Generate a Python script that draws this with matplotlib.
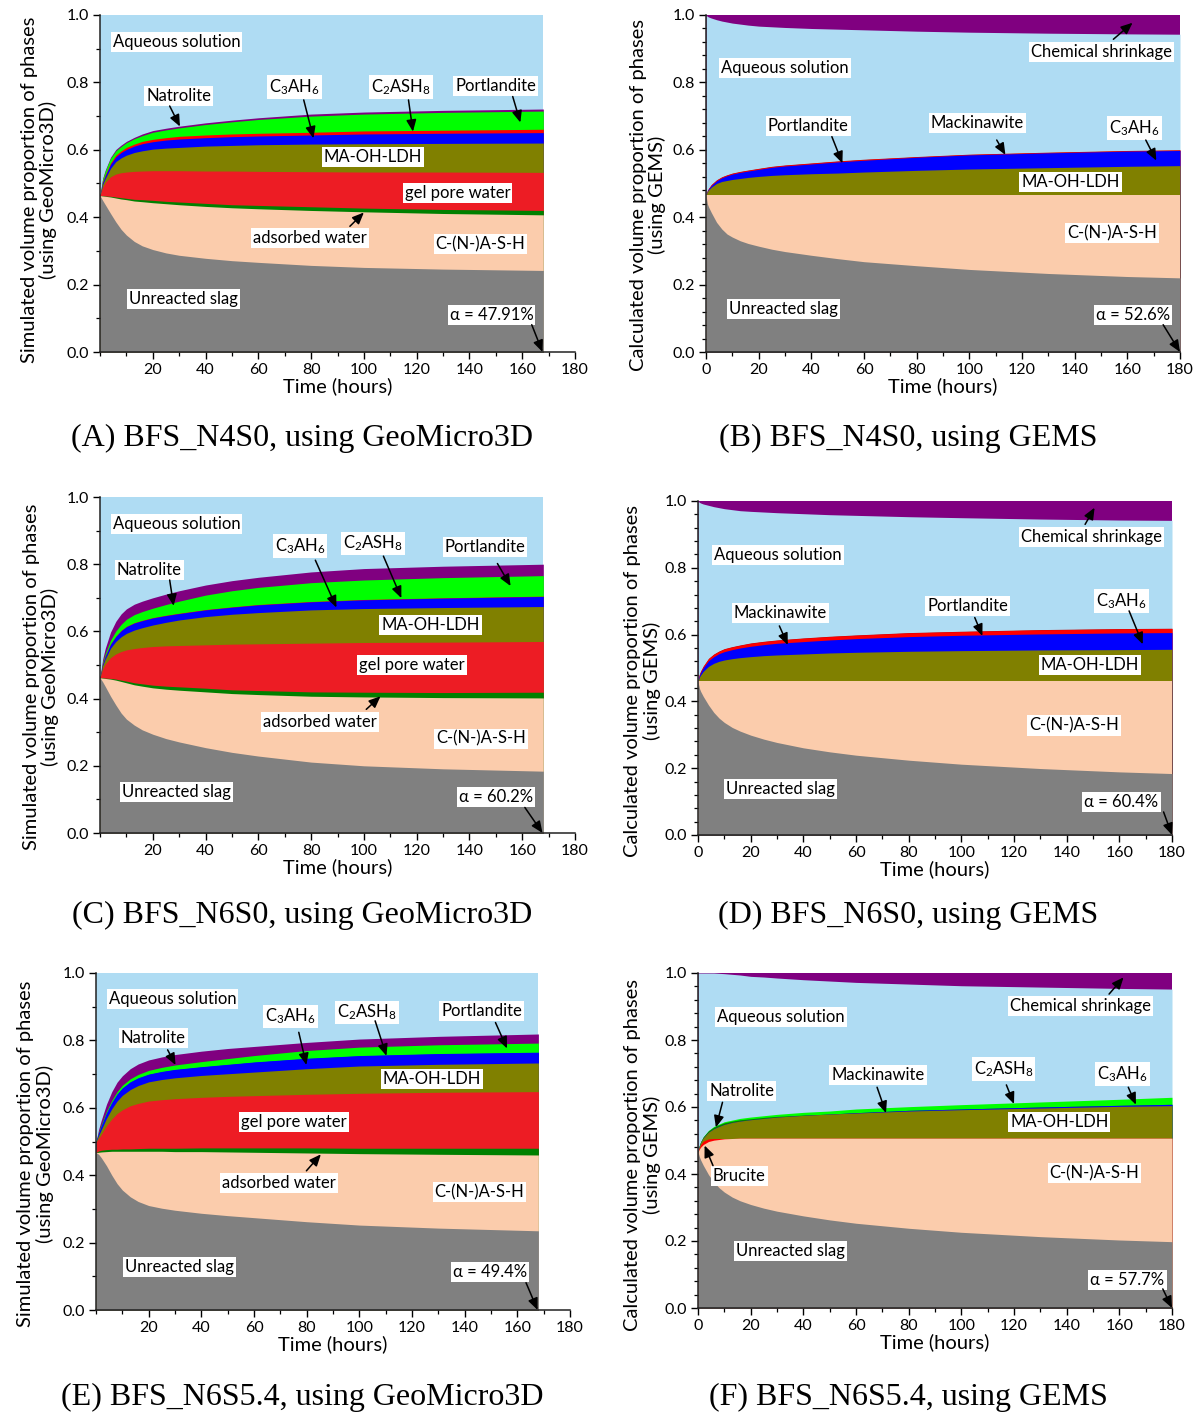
import numpy as np
import matplotlib
matplotlib.use("Agg")
import matplotlib.pyplot as plt
from matplotlib.ticker import MultipleLocator, AutoMinorLocator

plt.rcParams['font.family'] = ['Lato', 'DejaVu Sans']
plt.rcParams['mathtext.fontset'] = 'custom'
plt.rcParams['mathtext.rm'] = 'Lato'
plt.rcParams['mathtext.default'] = 'regular'

# ---- time axes (hours) ----
t_geo = [0, 1, 2, 4, 6, 8, 10, 13, 16, 20, 25, 30, 40, 50, 60, 80, 100, 130, 168]
t_gems = [0, 0.5, 1, 2, 4, 6, 8, 10, 13, 16, 20, 25, 30, 40, 50, 60, 80, 100, 130, 160, 180]

# ---- (A) BFS_N4S0, GeoMicro3D : volume fractions ----
a_slag = [0.464, 0.450, 0.437, 0.411, 0.386, 0.364, 0.347, 0.328, 0.315, 0.304, 0.294, 0.287, 0.278, 0.271, 0.266, 0.257, 0.251, 0.246, 0.242]
a_cash = [0, 0.013, 0.025, 0.049, 0.071, 0.090, 0.105, 0.120, 0.131, 0.139, 0.146, 0.150, 0.154, 0.157, 0.159, 0.163, 0.165, 0.165, 0.165]
a_ads = [0, 0.001, 0.001, 0.002, 0.003, 0.004, 0.004, 0.005, 0.006, 0.007, 0.007, 0.008, 0.009, 0.009, 0.010, 0.011, 0.011, 0.012, 0.013]
a_gel = [0, 0.024, 0.040, 0.058, 0.068, 0.074, 0.078, 0.083, 0.085, 0.088, 0.091, 0.093, 0.096, 0.100, 0.101, 0.104, 0.107, 0.111, 0.113]
a_ldh = [0, 0.009, 0.012, 0.025, 0.037, 0.044, 0.050, 0.056, 0.060, 0.064, 0.067, 0.069, 0.074, 0.076, 0.079, 0.082, 0.084, 0.085, 0.087]
a_c3ah6 = [0, 0.006, 0.008, 0.012, 0.014, 0.016, 0.017, 0.019, 0.021, 0.022, 0.024, 0.025, 0.025, 0.026, 0.026, 0.027, 0.029, 0.030, 0.031]
a_c2ash8 = [0, 0.002, 0.003, 0.004, 0.005, 0.005, 0.006, 0.006, 0.007, 0.007, 0.007, 0.008, 0.008, 0.008, 0.008, 0.008, 0.009, 0.009, 0.010]
a_port = [0, 0.008, 0.011, 0.014, 0.013, 0.013, 0.014, 0.016, 0.017, 0.021, 0.023, 0.025, 0.031, 0.036, 0.041, 0.048, 0.050, 0.053, 0.054]
a_natro = [0, 0.002, 0.003, 0.003, 0.004, 0.004, 0.004, 0.004, 0.005, 0.005, 0.005, 0.005, 0.005, 0.005, 0.005, 0.006, 0.006, 0.006, 0.006]

# ---- (B) BFS_N4S0, GEMS ----
b_slag = [0.466, 0.440, 0.430, 0.414, 0.385, 0.365, 0.350, 0.341, 0.330, 0.322, 0.314, 0.305, 0.298, 0.287, 0.277, 0.268, 0.256, 0.245, 0.233, 0.224, 0.220]
b_cash = [0, 0.026, 0.036, 0.052, 0.081, 0.101, 0.116, 0.125, 0.136, 0.144, 0.152, 0.161, 0.168, 0.179, 0.189, 0.198, 0.210, 0.221, 0.233, 0.242, 0.246]
b_ldh = [0, 0.010, 0.015, 0.023, 0.034, 0.040, 0.043, 0.046, 0.049, 0.052, 0.055, 0.058, 0.060, 0.063, 0.065, 0.068, 0.073, 0.077, 0.081, 0.085, 0.087]
b_c3ah6 = [0, 0.001, 0.003, 0.005, 0.008, 0.011, 0.014, 0.016, 0.018, 0.019, 0.021, 0.024, 0.026, 0.029, 0.033, 0.035, 0.039, 0.042, 0.044, 0.045, 0.045]
b_port = [0, 0.001, 0.001, 0.002, 0.002, 0.002, 0.002, 0.002, 0.002, 0.002, 0.002, 0.002, 0.002, 0.002, 0.002, 0.002, 0.001, 0.001, 0.001, 0.001, 0.001]
b_mack = [0, 0.001, 0.001, 0.001, 0.001, 0.001, 0.001, 0.001, 0.001, 0.001, 0.001, 0.001, 0.001, 0.001, 0.001, 0.001, 0.001, 0.001, 0.001, 0.001, 0.001]
b_shrink = [0, 0.004, 0.006, 0.009, 0.014, 0.018, 0.021, 0.024, 0.027, 0.030, 0.033, 0.035, 0.037, 0.040, 0.042, 0.044, 0.048, 0.051, 0.054, 0.056, 0.057]

# ---- (C) BFS_N6S0, GeoMicro3D ----
c_slag = [0.462, 0.450, 0.436, 0.407, 0.381, 0.357, 0.339, 0.321, 0.307, 0.294, 0.281, 0.271, 0.254, 0.240, 0.229, 0.211, 0.200, 0.191, 0.184]
c_cash = [0, 0.011, 0.024, 0.051, 0.074, 0.094, 0.108, 0.120, 0.130, 0.138, 0.147, 0.154, 0.166, 0.175, 0.183, 0.196, 0.205, 0.212, 0.218]
c_ads = [0, 0.001, 0.001, 0.002, 0.003, 0.004, 0.005, 0.006, 0.007, 0.008, 0.009, 0.010, 0.011, 0.011, 0.012, 0.013, 0.014, 0.015, 0.017]
c_gel = [0, 0.026, 0.042, 0.062, 0.075, 0.085, 0.093, 0.102, 0.108, 0.115, 0.120, 0.123, 0.129, 0.136, 0.139, 0.145, 0.148, 0.150, 0.151]
c_ldh = [0, 0.010, 0.015, 0.028, 0.037, 0.044, 0.049, 0.055, 0.059, 0.064, 0.070, 0.076, 0.084, 0.089, 0.093, 0.099, 0.101, 0.103, 0.104]
c_c3ah6 = [0, 0.005, 0.008, 0.012, 0.015, 0.018, 0.020, 0.021, 0.021, 0.021, 0.020, 0.019, 0.020, 0.021, 0.023, 0.024, 0.026, 0.028, 0.030]
c_c2ash8 = [0, 0.001, 0.001, 0.001, 0.001, 0.001, 0.001, 0.001, 0.001, 0.001, 0.001, 0.001, 0.001, 0.001, 0.001, 0.001, 0.001, 0.001, 0.001]
c_port = [0, 0.004, 0.007, 0.011, 0.015, 0.018, 0.021, 0.024, 0.026, 0.028, 0.032, 0.036, 0.043, 0.048, 0.051, 0.056, 0.058, 0.060, 0.061]
c_natro = [0, 0.009, 0.016, 0.024, 0.029, 0.031, 0.031, 0.031, 0.031, 0.031, 0.031, 0.031, 0.030, 0.030, 0.030, 0.032, 0.034, 0.034, 0.034]

# ---- (D) BFS_N6S0, GEMS ----
d_slag = [0.460, 0.440, 0.430, 0.415, 0.389, 0.367, 0.350, 0.337, 0.322, 0.311, 0.299, 0.287, 0.277, 0.261, 0.249, 0.239, 0.224, 0.212, 0.199, 0.189, 0.184]
d_cash = [0, 0.020, 0.030, 0.045, 0.071, 0.093, 0.110, 0.123, 0.138, 0.149, 0.161, 0.173, 0.183, 0.199, 0.211, 0.221, 0.236, 0.248, 0.261, 0.271, 0.276]
d_ldh = [0, 0.012, 0.019, 0.030, 0.045, 0.054, 0.060, 0.064, 0.068, 0.071, 0.074, 0.077, 0.079, 0.082, 0.085, 0.087, 0.090, 0.092, 0.094, 0.095, 0.096]
d_c3ah6 = [0, 0.006, 0.008, 0.011, 0.017, 0.020, 0.023, 0.025, 0.027, 0.029, 0.031, 0.033, 0.035, 0.037, 0.039, 0.041, 0.044, 0.046, 0.048, 0.050, 0.050]
d_port = [0, 0.002, 0.003, 0.004, 0.006, 0.007, 0.007, 0.008, 0.008, 0.008, 0.009, 0.009, 0.009, 0.010, 0.010, 0.010, 0.011, 0.011, 0.012, 0.012, 0.012]
d_mack = [0, 0.001, 0.001, 0.001, 0.001, 0.001, 0.001, 0.001, 0.001, 0.001, 0.001, 0.001, 0.001, 0.001, 0.001, 0.001, 0.001, 0.001, 0.001, 0.001, 0.001]
d_shrink = [0, 0.004, 0.006, 0.009, 0.013, 0.017, 0.020, 0.023, 0.026, 0.029, 0.031, 0.033, 0.035, 0.038, 0.041, 0.043, 0.047, 0.050, 0.054, 0.057, 0.058]

# ---- (E) BFS_N6S5.4, GeoMicro3D ----
e_slag = [0.467, 0.462, 0.452, 0.428, 0.400, 0.375, 0.356, 0.336, 0.322, 0.310, 0.302, 0.296, 0.287, 0.280, 0.274, 0.262, 0.252, 0.243, 0.235]
e_cash = [0, 0.006, 0.017, 0.042, 0.071, 0.096, 0.115, 0.135, 0.149, 0.161, 0.169, 0.174, 0.183, 0.189, 0.194, 0.204, 0.212, 0.219, 0.225]
e_ads = [0, 0.004, 0.005, 0.006, 0.006, 0.006, 0.007, 0.007, 0.008, 0.009, 0.009, 0.010, 0.011, 0.012, 0.013, 0.015, 0.016, 0.018, 0.020]
e_gel = [0.031, 0.037, 0.047, 0.071, 0.090, 0.106, 0.116, 0.128, 0.134, 0.140, 0.144, 0.147, 0.150, 0.153, 0.155, 0.159, 0.163, 0.166, 0.168]
e_ldh = [0.002, 0.009, 0.014, 0.022, 0.030, 0.037, 0.043, 0.048, 0.053, 0.057, 0.060, 0.062, 0.065, 0.067, 0.070, 0.076, 0.081, 0.083, 0.085]
e_c3ah6 = [0, 0.005, 0.010, 0.015, 0.018, 0.020, 0.021, 0.022, 0.022, 0.022, 0.023, 0.024, 0.025, 0.027, 0.029, 0.030, 0.030, 0.031, 0.031]
e_c2ash8 = [0, 0.001, 0.001, 0.001, 0.001, 0.001, 0.001, 0.001, 0.001, 0.001, 0.001, 0.001, 0.001, 0.001, 0.001, 0.001, 0.001, 0.001, 0.001]
e_port = [0, 0.002, 0.004, 0.005, 0.006, 0.007, 0.008, 0.009, 0.010, 0.011, 0.012, 0.013, 0.015, 0.017, 0.019, 0.023, 0.025, 0.026, 0.027]
e_natro = [0, 0.010, 0.013, 0.021, 0.026, 0.028, 0.028, 0.030, 0.031, 0.031, 0.031, 0.031, 0.031, 0.030, 0.027, 0.024, 0.024, 0.025, 0.027]

# ---- (F) BFS_N6S5.4, GEMS ----
f_slag = [0.466, 0.452, 0.442, 0.426, 0.398, 0.376, 0.359, 0.346, 0.331, 0.320, 0.309, 0.298, 0.289, 0.275, 0.263, 0.253, 0.238, 0.226, 0.213, 0.203, 0.198]
f_cash = [0, 0.022, 0.038, 0.062, 0.099, 0.125, 0.144, 0.159, 0.175, 0.187, 0.198, 0.209, 0.218, 0.232, 0.244, 0.254, 0.269, 0.281, 0.294, 0.304, 0.309]
f_brucite = [0, 0.005, 0.008, 0.010, 0.008, 0.005, 0.003, 0.001, 0, 0, 0, 0, 0, 0, 0, 0, 0, 0, 0, 0, 0]
f_ldh = [0, 0.005, 0.006, 0.010, 0.020, 0.029, 0.036, 0.042, 0.048, 0.051, 0.055, 0.059, 0.063, 0.068, 0.072, 0.075, 0.081, 0.085, 0.090, 0.095, 0.097]
f_c3ah6 = [0, 0, 0, 0, 0, 0, 0, 0, 0, 0, 0, 0, 0, 0, 0, 0.001, 0.002, 0.002, 0.003, 0.003, 0.004]
f_natro = [0, 0.001, 0.002, 0.003, 0.004, 0.005, 0.005, 0.005, 0.004, 0.004, 0.003, 0.003, 0.002, 0.001, 0, 0, 0, 0, 0, 0, 0]
f_c2ash8 = [0, 0, 0, 0, 0.001, 0.002, 0.002, 0.003, 0.003, 0.004, 0.005, 0.005, 0.006, 0.008, 0.009, 0.011, 0.011, 0.013, 0.015, 0.018, 0.021]
f_shrink = [0, 0, 0, 0, 0, 0, 0.001, 0.002, 0.004, 0.006, 0.010, 0.012, 0.015, 0.020, 0.024, 0.028, 0.033, 0.038, 0.042, 0.046, 0.048]

# ---- colours ----
GRAY = '#808080'
PEACH = '#FBCCAC'
DKGREEN = '#008000'
RED = '#ED1C24'
OLIVE = '#808000'
BLUE = '#0000FF'
BRED = '#FF0000'
LIME = '#00FF00'
PURPLE = '#800080'
AQUA = '#AFDCF3'
MACK = '#C00000'

C3 = 'C$_3$AH$_6$'
C2 = 'C$_2$ASH$_8$'

W, H = 1201, 1415
fig = plt.figure(figsize=(W / 100, H / 100), dpi=100)


def rect(l, r, t, b):
    return [l / W, 1 - b / H, (r - l) / W, (b - t) / H]


def draw_panel(ax, t, layers, shrink, gems, ylab, ylab_pos, notes):
    t = np.asarray(t)
    vals = np.array([v for v, c in layers])
    tops = np.cumsum(vals, axis=0)
    sh = np.zeros(len(t)) if shrink is None else np.asarray(shrink)
    # top band (chemical shrinkage) and aqueous solution fill the rest
    ax.fill_between(t, 0, 1, color=PURPLE, lw=0)
    ax.fill_between(t, 0, 1 - sh, color=AQUA, lw=0)
    # paint from top layer down so no seams show between bands
    for i in range(len(layers) - 1, -1, -1):
        ax.fill_between(t, 0, tops[i], color=layers[i][1], lw=0)

    ax.set_xlim(0, 180)
    ax.set_ylim(0, 1)
    for s in ('top', 'right'):
        ax.spines[s].set_visible(False)
    for s in ('left', 'bottom'):
        ax.spines[s].set_linewidth(1.1)
        ax.spines[s].set_color('#222222')
    if gems:
        ax.set_xticks(range(0, 181, 20))
        ax.yaxis.set_minor_locator(AutoMinorLocator(5))
    else:
        ax.set_xticks(range(20, 181, 20))
        ax.yaxis.set_minor_locator(MultipleLocator(0.1))
    ax.xaxis.set_minor_locator(MultipleLocator(10))
    ax.set_yticks(np.arange(0, 1.01, 0.2))
    ax.set_yticklabels(['%.1f' % v for v in np.arange(0, 1.01, 0.2)])
    ax.tick_params(which='major', direction='out', length=5, width=1, labelsize=11.5, pad=3)
    ax.tick_params(which='minor', direction='out', length=3, width=0.9)
    ax.set_xlabel('Time (hours)', fontsize=14.5, labelpad=0)
    ax.set_ylabel(ylab, fontsize=14.5, linespacing=1.1)
    ax.yaxis.set_label_coords(*ylab_pos)

    box = dict(boxstyle='square,pad=0.12', fc='white', ec='none')
    for n in notes:
        txt, pos = n[0], n[1]
        ax.text(pos[0], pos[1], txt, fontsize=12, ha='center', va='center',
                bbox=box, zorder=5, family=['Lato', 'DejaVu Sans'])
        if len(n) > 2:
            ax.annotate('', xy=n[3], xytext=n[2], annotation_clip=False, zorder=6,
                        arrowprops=dict(arrowstyle='-|>,head_length=0.7,head_width=0.3',
                                        color='black', lw=1.1, mutation_scale=10,
                                        shrinkA=0, shrinkB=0))


ylab_geo = 'Simulated volume proportion of phases\n(using GeoMicro3D)'
ylab_gems = 'Calculated volume proportion of phases\n(using GEMS)'

# (A)
axA = fig.add_axes(rect(100, 575, 15, 352))
draw_panel(axA, t_geo,
           [(a_slag, GRAY), (a_cash, PEACH), (a_ads, DKGREEN), (a_gel, RED), (a_ldh, OLIVE),
            (a_c3ah6, BLUE), (a_c2ash8, BRED), (a_port, LIME), (a_natro, PURPLE)],
           None, False, ylab_geo, (-0.09, 0.48),
           [('Aqueous solution', (29, 0.921)),
            ('Natrolite', (29.8, 0.76), (26.4, 0.73), (30.3, 0.669)),
            (C3, (73.6, 0.786), (77.2, 0.748), (80.9, 0.634)),
            (C2, (114, 0.786), (116.9, 0.748), (118.6, 0.654)),
            ('Portlandite', (150, 0.79), (156.4, 0.758), (159.3, 0.681)),
            ('MA-OH-LDH', (103.4, 0.578)),
            ('gel pore water', (135.5, 0.471)),
            ('adsorbed water', (79.7, 0.338), (94.7, 0.373), (100, 0.414)),
            ('C-(N-)A-S-H', (144.2, 0.32)),
            ('Unreacted slag', (31.8, 0.158)),
            ('α = 47.91%', (148.4, 0.111), (163.6, 0.081), (167.7, 0.0))])

# (B)
axB = fig.add_axes(rect(706, 1180, 15, 352))
draw_panel(axB, t_gems,
           [(b_slag, GRAY), (b_cash, PEACH), (b_ldh, OLIVE), (b_c3ah6, BLUE),
            (b_port, BRED), (b_mack, MACK)],
           b_shrink, True, ylab_gems, (-0.084, 0.466),
           [('Chemical shrinkage', (150.3, 0.891), (154.7, 0.928), (162, 0.977)),
            ('Aqueous solution', (30, 0.842)),
            ('Portlandite', (38.8, 0.671), (47.8, 0.639), (51.8, 0.56)),
            ('Mackinawite', (103, 0.681), (110.4, 0.629), (113.7, 0.585)),
            (C3, (162.7, 0.664), (167, 0.629), (171, 0.568)),
            ('MA-OH-LDH', (138.4, 0.503)),
            ('C-(N-)A-S-H', (154.3, 0.353)),
            ('Unreacted slag', (29.4, 0.127)),
            ('α = 52.6%', (162.3, 0.111), (173.6, 0.081), (180, 0.0))])

# (C)
axC = fig.add_axes(rect(100, 575, 497, 833))
draw_panel(axC, t_geo,
           [(c_slag, GRAY), (c_cash, PEACH), (c_ads, DKGREEN), (c_gel, RED), (c_ldh, OLIVE),
            (c_c3ah6, BLUE), (c_c2ash8, BRED), (c_port, LIME), (c_natro, PURPLE)],
           None, False, ylab_geo, (-0.086, 0.464),
           [('Aqueous solution', (29, 0.921)),
            ('Natrolite', (18.7, 0.783), (26.4, 0.753), (27.9, 0.676)),
            (C3, (75.8, 0.854), (81.6, 0.812), (89.6, 0.671)),
            (C2, (103.4, 0.862), (107.4, 0.824), (114.2, 0.699)),
            ('Portlandite', (145.9, 0.852), (150.6, 0.802), (155.6, 0.735)),
            ('MA-OH-LDH', (125.2, 0.62)),
            ('gel pore water', (118.2, 0.5)),
            ('adsorbed water', (83.5, 0.33), (100.9, 0.368), (106.3, 0.407)),
            ('C-(N-)A-S-H', (144.5, 0.281)),
            ('Unreacted slag', (28.9, 0.123)),
            ('α = 60.2%', (150, 0.106), (161, 0.076), (167.7, 0.0))])

# (D)
axD = fig.add_axes(rect(698, 1172, 501, 835))
draw_panel(axD, t_gems,
           [(d_slag, GRAY), (d_cash, PEACH), (d_ldh, OLIVE), (d_c3ah6, BLUE),
            (d_port, BRED), (d_mack, MACK)],
           d_shrink, True, ylab_gems, (-0.078, 0.461),
           [('Chemical shrinkage', (149.3, 0.892), (147, 0.93), (150.6, 0.98)),
            ('Aqueous solution', (30.4, 0.839)),
            ('Mackinawite', (31.2, 0.664), (30.9, 0.626), (34.1, 0.569)),
            ('Portlandite', (102.5, 0.686), (105.1, 0.651), (108, 0.596)),
            (C3, (160.8, 0.70), (163.7, 0.671), (168.9, 0.571)),
            ('MA-OH-LDH', (148.8, 0.509)),
            ('C-(N-)A-S-H', (142.7, 0.328)),
            ('Unreacted slag', (31.2, 0.139)),
            ('α = 60.4%', (160.8, 0.1), (176.8, 0.069), (180, 0.0))])

# (E)
axE = fig.add_axes(rect(96, 570, 973, 1310))
draw_panel(axE, t_geo,
           [(e_slag, GRAY), (e_cash, PEACH), (e_ads, DKGREEN), (e_gel, RED), (e_ldh, OLIVE),
            (e_c3ah6, BLUE), (e_c2ash8, BLUE), (e_port, LIME), (e_natro, PURPLE)],
           None, False, ylab_geo, (-0.089, 0.463),
           [('Aqueous solution', (29, 0.923)),
            ('Natrolite', (21.8, 0.806), (27.2, 0.772), (30.2, 0.727)),
            (C3, (73.8, 0.871), (77, 0.824), (79.9, 0.727)),
            (C2, (103, 0.883), (106, 0.858), (110.3, 0.754)),
            ('Portlandite', (146.4, 0.888), (151.7, 0.853), (156.1, 0.776)),
            ('MA-OH-LDH', (127.5, 0.685)),
            ('gel pore water', (75.2, 0.558)),
            ('adsorbed water', (69.4, 0.378), (79.9, 0.413), (85.4, 0.462)),
            ('C-(N-)A-S-H', (145.6, 0.35)),
            ('Unreacted slag', (31.7, 0.129)),
            ('α = 49.4%', (149.5, 0.113), (163.3, 0.081), (167.7, 0.0))])

# (F)
axF = fig.add_axes(rect(698, 1172, 973, 1308))
draw_panel(axF, t_gems,
           [(f_slag, GRAY), (f_cash, PEACH), (f_brucite, BRED), (f_ldh, OLIVE),
            (f_c3ah6, BLUE), (f_natro, DKGREEN), (f_c2ash8, LIME)],
           f_shrink, True, ylab_gems, (-0.078, 0.457),
           [('Chemical shrinkage', (145.2, 0.902), (156.1, 0.937), (161.6, 0.987)),
            ('Aqueous solution', (31.6, 0.868)),
            ('Natrolite', (16.6, 0.648), (9.3, 0.614), (6.8, 0.539)),
            ('Brucite', (15.6, 0.393), (5.7, 0.425), (2.5, 0.485)),
            ('Mackinawite', (68.4, 0.696), (68, 0.659), (71.4, 0.582)),
            (C2, (116, 0.713), (117.1, 0.666), (120, 0.609)),
            (C3, (161.2, 0.699), (163.4, 0.659), (166.3, 0.607)),
            ('MA-OH-LDH', (137.2, 0.554)),
            ('C-(N-)A-S-H', (150.6, 0.403)),
            ('Unreacted slag', (35.2, 0.171)),
            ('α = 57.7%', (163.1, 0.085), (176.5, 0.057), (180, 0.0))])

# captions
captions = [('(A) BFS_N4S0, using GeoMicro3D', 302, 438),
            ('(B) BFS_N4S0, using GEMS', 908, 438),
            ('(C) BFS_N6S0, using GeoMicro3D', 302, 915),
            ('(D) BFS_N6S0, using GEMS', 908, 915),
            ('(E) BFS_N6S5.4, using GeoMicro3D', 302, 1397),
            ('(F) BFS_N6S5.4, using GEMS', 908, 1397)]
for txt, x, y in captions:
    fig.text(x / W, 1 - y / H, txt, ha='center', va='center', fontsize=23,
             family='Liberation Serif')

fig.savefig('out.png', dpi=100)
